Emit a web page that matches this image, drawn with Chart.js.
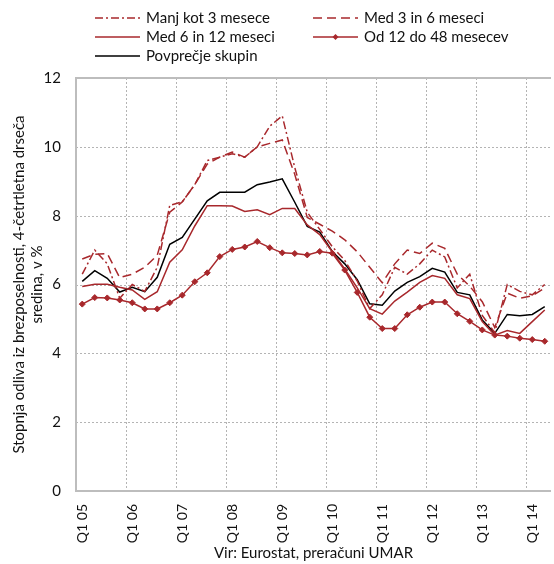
<!DOCTYPE html>
<html>
<head>
<meta charset="utf-8">
<script src="https://cdn.jsdelivr.net/npm/chart.js@4.4.1/dist/chart.umd.min.js"></script>
<style>
  html, body { margin: 0; padding: 0; background: #fff; overflow: hidden; }
  #wrap { width: 556px; height: 564px; }
</style>
</head>
<body>
<div id="wrap"><canvas id="myChart" width="556" height="564"></canvas></div>
<script>
// quarters Q1 05 .. Q2 14
var quarters = [];
for (var y = 5; y <= 14; y++) {
  for (var q = 1; q <= 4; q++) {
    quarters.push('Q' + q + ' ' + (y < 10 ? '0' + y : '' + y));
  }
}
quarters = quarters.slice(0, 38);

var manjKot3 = [6.3, 7.0, 6.6, 5.6, 6.0, 5.8, 6.5, 8.3, 8.4, 8.9, 9.6, 9.7,
  9.8, 9.7, 10.0, 10.6, 10.9, 9.4, 8.1, 7.6, 7.1, 6.7, 6.1, 5.3,
  5.7, 6.5, 6.3, 6.6, 7.0, 6.8, 5.9, 6.3, 5.1, 4.6, 6.0, 5.8,
  5.7, 6.0];
var med3in6 = [6.74, 6.88, 6.9, 6.2, 6.3, 6.5, 6.85, 8.1, 8.4, 8.9, 9.5, 9.7,
  9.85, 9.7, 10.0, 10.1, 10.2, 9.2, 7.95, 7.75, 7.55, 7.3, 6.95, 6.5,
  6.05, 6.6, 7.0, 6.9, 7.2, 7.05, 6.3, 5.95, 5.5, 4.75, 5.75, 5.6,
  5.67, 5.9];
var med6in12 = [5.94, 6.01, 6.01, 5.92, 5.84, 5.57, 5.79, 6.65, 7.01, 7.7, 8.29, 8.29,
  8.28, 8.12, 8.17, 8.03, 8.21, 8.21, 7.73, 7.45, 6.95, 6.45, 5.9, 5.3,
  5.14, 5.52, 5.78, 6.06, 6.26, 6.18, 5.7, 5.59, 4.92, 4.53, 4.66, 4.58,
  4.92, 5.26];
var od12do48 = [5.43, 5.62, 5.61, 5.55, 5.47, 5.29, 5.29, 5.47, 5.69, 6.08, 6.34, 6.81,
  7.02, 7.09, 7.25, 7.07, 6.92, 6.9, 6.86, 6.96, 6.91, 6.42, 5.77, 5.05,
  4.72, 4.72, 5.12, 5.34, 5.49, 5.49, 5.15, 4.93, 4.68, 4.53, 4.5, 4.44,
  4.4, 4.35];
var povprecje = [6.09, 6.4, 6.18, 5.78, 5.92, 5.79, 6.21, 7.17, 7.37, 7.9, 8.43, 8.68,
  8.68, 8.68, 8.9, 8.98, 9.07, 8.39, 7.69, 7.52, 6.96, 6.6, 6.14, 5.44,
  5.4, 5.81, 6.06, 6.23, 6.47, 6.36, 5.77, 5.7, 4.97, 4.58, 5.13, 5.09,
  5.13, 5.36];

var RED = '#a8282c';
var GRID = '#bdbdbd';
var DOTS = '#b4b4b4';
var FONT = 'Lato, "Open Sans", sans-serif';

// legend in two columns above the plot
const legendTop = {
  id: 'legendTop',
  afterDraw: function(chart) {
    var ctx = chart.ctx;
    var ds = chart.data.datasets;
    var spots = [[95, 18], [313, 18], [95, 37], [313, 37], [95, 56]];
    ctx.save();
    ctx.font = '15px ' + FONT;
    ctx.textBaseline = 'middle';
    for (var i = 0; i < ds.length; i++) {
      var x = spots[i][0], y = spots[i][1];
      ctx.strokeStyle = ds[i].borderColor;
      ctx.lineWidth = 1.5;
      ctx.setLineDash(ds[i].borderDash || []);
      ctx.beginPath();
      ctx.moveTo(x, y);
      ctx.lineTo(x + 45, y);
      ctx.stroke();
      ctx.setLineDash([]);
      if (ds[i].pointRadius > 0) {
        ctx.fillStyle = ds[i].borderColor;
        ctx.beginPath();
        ctx.moveTo(x + 22.5, y - 3);
        ctx.lineTo(x + 25.5, y);
        ctx.lineTo(x + 22.5, y + 3);
        ctx.lineTo(x + 19.5, y);
        ctx.closePath();
        ctx.fill();
      }
      ctx.fillStyle = '#111';
      ctx.fillText(ds[i].label, x + 51, y);
    }
    ctx.restore();
  }
};

// dotted grid (2px dots) and the solid frame, under the data lines
const frame = {
  id: 'frame',
  beforeDatasetsDraw: function(chart) {
    var a = chart.chartArea, ctx = chart.ctx;
    var xs = chart.scales.x, ys = chart.scales.y;
    var L = Math.round(a.left), R = Math.round(a.right);
    var T = Math.round(a.top), B = Math.round(a.bottom);
    ctx.save();
    ctx.fillStyle = DOTS;
    ys.ticks.forEach(function(t) {
      var py = Math.round(ys.getPixelForValue(t.value));
      for (var x = L; x < R; x += 4) ctx.fillRect(x, py, 2, 1);
    });
    var half = (xs.getPixelForValue(1) - xs.getPixelForValue(0)) / 2;
    for (var i = 4; i < quarters.length; i += 4) {
      var px = Math.round(xs.getPixelForValue(i) - half);
      for (var yy = T; yy < B; yy += 4) ctx.fillRect(px, yy, 1, 2);
    }
    ctx.fillStyle = GRID;
    ctx.fillRect(L - 1, T - 1, R - L + 1, 2);
    ctx.fillRect(L - 1, T - 1, 2, B - T + 2);
    ctx.fillRect(L - 1, B - 1, R - L + 1, 2);
    ctx.restore();
  }
};

const data = {
  labels: quarters,
  datasets: [
    { label: 'Manj kot 3 mesece', data: manjKot3, borderColor: RED, borderDash: [8, 3, 2, 3], borderWidth: 1.5, pointRadius: 0 },
    { label: 'Med 3 in 6 meseci', data: med3in6, borderColor: RED, borderDash: [9, 5], borderWidth: 1.5, pointRadius: 0 },
    { label: 'Med 6 in 12 meseci', data: med6in12, borderColor: RED, borderWidth: 1.5, pointRadius: 0 },
    { label: 'Od 12 do 48 mesecev', data: od12do48, borderColor: RED, backgroundColor: RED, borderWidth: 1.5,
      pointStyle: 'rectRot', pointRadius: 3, pointBorderWidth: 1 },
    { label: 'Povprečje skupin', data: povprecje, borderColor: '#000', borderWidth: 1.5, pointRadius: 0 }
  ]
};

const config = {
  type: 'line',
  data: data,
  plugins: [frame, legendTop],
  options: {
    responsive: false,
    animation: false,
    devicePixelRatio: 1,
    layout: { padding: { top: 78, right: 1, left: 10, bottom: 2 } },
    elements: { line: { tension: 0 } },
    plugins: {
      legend: { display: false },
      tooltip: { enabled: false }
    },
    scales: {
      x: {
        offset: true,
        grid: { display: false },
        border: { display: false },
        afterFit: function(scale) {
          scale.paddingRight = 0;
          scale.paddingLeft = 0;
          scale.height = 71;
        },
        ticks: {
          autoSkip: false,
          maxRotation: 90,
          minRotation: 90,
          padding: 5,
          color: '#111',
          font: { family: FONT, size: 14 },
          callback: function(v, i) { return i % 4 === 0 ? quarters[i] : ''; }
        },
        title: {
          display: true,
          text: 'Vir: Eurostat, preračuni UMAR',
          color: '#111',
          font: { family: FONT, size: 15 },
          padding: { top: 2, bottom: 0 }
        }
      },
      y: {
        min: 0,
        max: 12,
        grid: { display: false },
        border: { display: false },
        afterFit: function(scale) {
          scale.paddingTop = 0;
          scale.paddingBottom = 0;
          scale.width = 66;
        },
        ticks: {
          stepSize: 2,
          padding: 7,
          color: '#111',
          font: { family: FONT, size: 15 }
        },
        title: {
          display: true,
          text: ['Stopnja odliva iz brezposelnosti, 4-četrtletna drseča', 'sredina, v %'],
          color: '#111',
          font: { family: FONT, size: 15 },
          padding: { top: 0, bottom: 4 }
        }
      }
    }
  }
};
var ctx = document.getElementById('myChart').getContext('2d');
var myChart = new Chart(ctx, config);
</script>
</body>
</html>
